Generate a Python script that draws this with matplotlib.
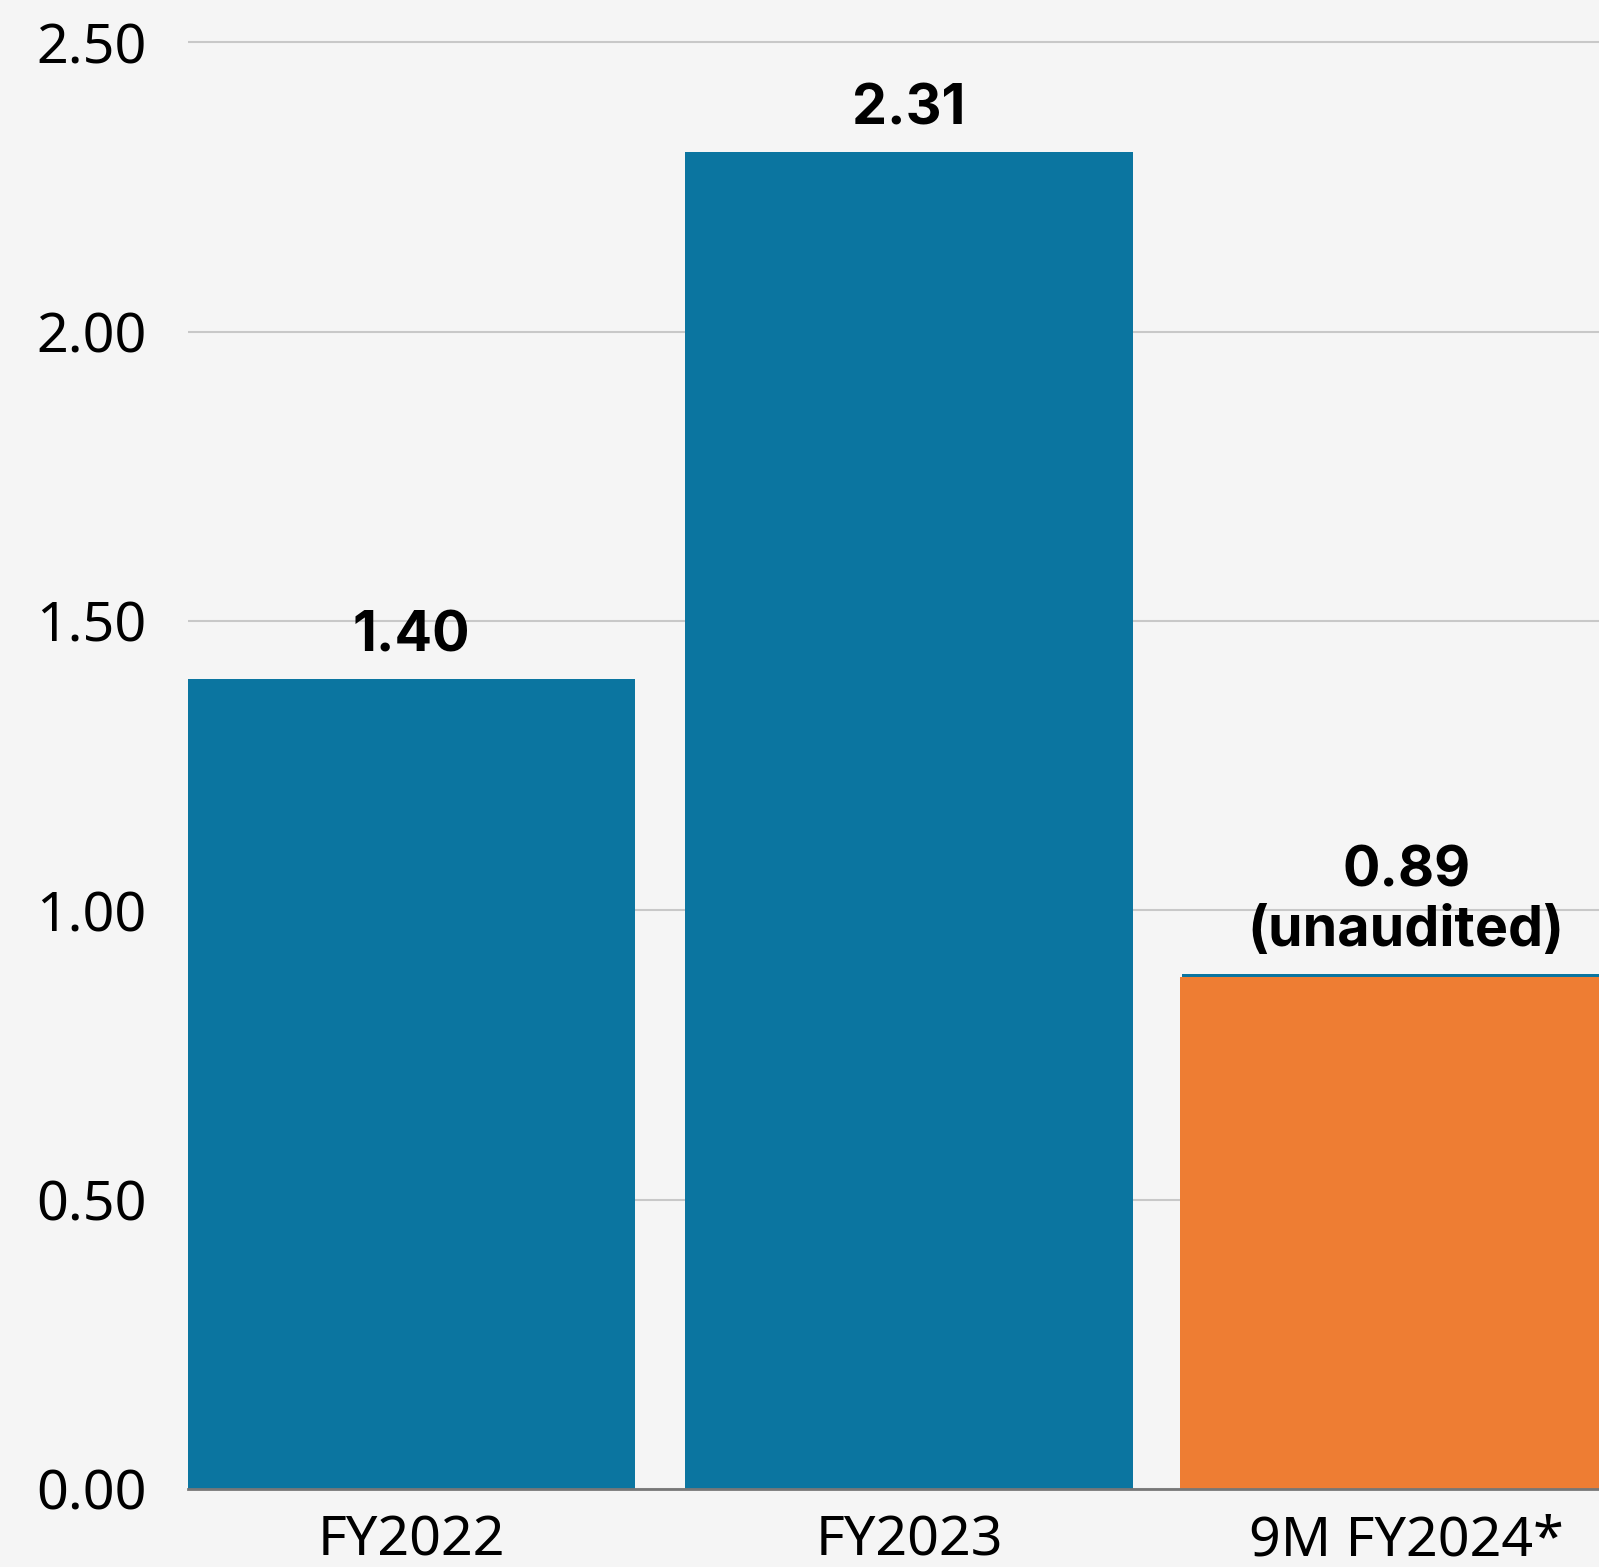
import matplotlib.pyplot as plt
import numpy as np

# datos
CATEGORIAS = ["FY2022", "FY2023", "9M FY2024*"]
VALORES    = [1.40, 2.31, 0.89]
ETIQUETAS  = ["1.40", "2.31", "0.89\n(unaudited)"]
NARANJA_VAL = [0.885]          # barra naranja superpuesta sobre la 3ª
Y_TICKS    = [0.0, 0.5, 1.0, 1.5, 2.0, 2.5]

AZUL    = "#0b75a0"
NARANJA = "#ee7d33"
FONDO   = "#f5f5f5"

fig = plt.figure(figsize=(15.99, 15.67), dpi=100, facecolor=FONDO)
ax = fig.add_axes([188 / 1599, 78 / 1567, 1411 / 1599, 1489 / 1567])
ax.set_facecolor(FONDO)

x = np.arange(len(CATEGORIAS))
ax.bar(x, VALORES, width=0.9, color=AZUL, zorder=2)
ax.bar([x[2] - 0.005], NARANJA_VAL, width=0.9, color=NARANJA, zorder=3)

for xi, v, t in zip(x, VALORES, ETIQUETAS):
    ax.annotate(t, xy=(xi, v), xytext=(0, 12), textcoords="offset points",
                ha="center", va="bottom", fontsize=40, fontweight="bold",
                family=["Inter", "DejaVu Sans"], zorder=4)

ax.set_xlim(-0.45, 2.388)
ax.set_ylim(0, 2.573)
ax.set_yticks(Y_TICKS)
ax.set_yticklabels([f"{t:.2f}" for t in Y_TICKS])
ax.set_xticks(x)
ax.set_xticklabels(CATEGORIAS)
ax.tick_params(axis="both", length=0, labelsize=40)
ax.tick_params(axis="y", pad=30)
ax.tick_params(axis="x", pad=18)
for lab in ax.get_xticklabels() + ax.get_yticklabels():
    lab.set_family(["Noto Sans", "DejaVu Sans"])

ax.grid(axis="y", color="#c8c8c8", linewidth=1.5, zorder=0)
ax.set_axisbelow(True)
for s in ["top", "right", "left"]:
    ax.spines[s].set_visible(False)
ax.spines["bottom"].set_color("#777777")
ax.spines["bottom"].set_linewidth(2)
ax.spines["bottom"].set_zorder(5)

fig.savefig("out.png", dpi=100, facecolor=FONDO)
